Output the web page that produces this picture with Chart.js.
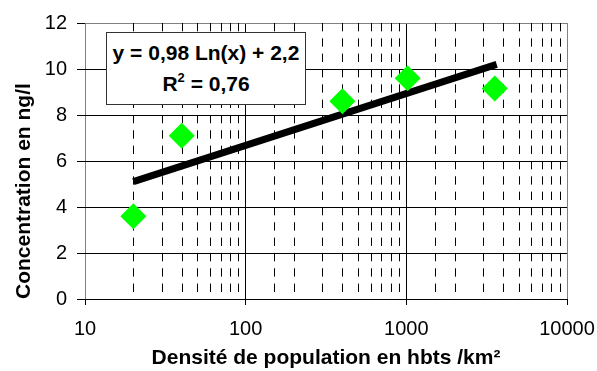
<!DOCTYPE html>
<html><head><meta charset="utf-8">
<script src="https://cdn.jsdelivr.net/npm/chart.js@4/dist/chart.umd.min.js"></script>
<style>
html,body{margin:0;padding:0;background:#fff;}
#wrap{position:relative;width:597px;height:371px;overflow:hidden;}
#c{position:absolute;left:0;top:0;}
#eq{position:absolute;left:106px;top:32px;width:200px;height:73px;border:1px solid #333;background:#fff;
 font:bold 21px "Liberation Sans",Arial,sans-serif;color:#000;text-align:center;box-sizing:border-box;}
#eq div{position:absolute;left:0;right:0;line-height:24px;white-space:nowrap;}
#eq sup{font-size:13px;vertical-align:0;position:relative;top:-9px;}
</style></head><body>
<div id="wrap"><canvas id="c" width="597" height="371" style="width:597px;height:371px"></canvas>
<div id="eq"><div style="top:8px">y = 0,98 Ln(x) + 2,2</div><div style="top:39px">R<sup>2</sup> = 0,76</div></div></div>
<script>
const densities = [20, 40, 400, 1020, 3550];
const concentrations = [3.6, 7.1, 8.6, 9.6, 9.15];
const trendX = [20, 3650];
const trendY = [5.1, 10.2];
const xMajorTicks = [10, 100, 1000, 10000];
const yTicks = [0, 2, 4, 6, 8, 10, 12];

const FONT = '"Liberation Sans", Arial, sans-serif';
const isMajor = v => xMajorTicks.some(m => Math.abs(v - m) < 1e-6 * m);

const minorGrid = {
  id: 'minorGrid',
  beforeDatasetsDraw(chart) {
    const x = chart.scales.x, a = chart.chartArea, ctx = chart.ctx;
    ctx.save();
    ctx.strokeStyle = '#000';
    ctx.lineWidth = 1;
    ctx.setLineDash([8.33, 7]);
    ctx.beginPath();
    x.ticks.forEach(t => {
      if (isMajor(t.value)) return;
      const px = Math.round(x.getPixelForValue(t.value)) + 0.5;
      ctx.moveTo(px, a.top);
      ctx.lineTo(px, a.bottom);
    });
    ctx.stroke();
    ctx.restore();
  }
};

new Chart(document.getElementById('c'), {
  type: 'scatter',
  data: {
    datasets: [
      {
        label: 'Tendance',
        type: 'line',
        data: trendX.map((v, i) => ({x: v, y: trendY[i]})),
        borderColor: '#000',
        borderWidth: 7,
        pointRadius: 0,
        fill: false,
        order: 2
      },
      {
        label: 'Mesures',
        data: densities.map((v, i) => ({x: v, y: concentrations[i]})),
        backgroundColor: '#00FF00',
        borderColor: '#00FF00',
        pointStyle: 'rectRot',
        pointRadius: 13,
        pointHoverRadius: 13,
        borderWidth: 0,
        order: 1
      }
    ]
  },
  options: {
    responsive: false,
    animation: false,
    events: [],
    layout: {padding: {left: 0, top: 23, right: 30, bottom: 0}},
    plugins: {legend: {display: false}, tooltip: {enabled: false}},
    scales: {
      x: {
        type: 'logarithmic',
        min: 10, max: 10000,
        afterFit(s) { s.height = 72; s.paddingLeft = 0; s.paddingRight = 0; },
        border: {display: false},
        grid: {
          color: c => {
            const v = c.tick && c.tick.value;
            if (v === 10 || v === 10000) return '#808080';
            return isMajor(v) ? '#000' : 'rgba(0,0,0,0)';
          },
          lineWidth: 1,
          tickLength: 6,
          tickColor: c => isMajor(c.tick && c.tick.value) ? '#000' : 'rgba(0,0,0,0)'
        },
        ticks: {
          autoSkip: false,
          maxRotation: 0,
          padding: 12,
          color: '#000',
          font: {family: FONT, size: 20},
          callback: v => isMajor(v) ? String(v) : ''
        },
        title: {
          display: true,
          text: 'Densité de population en hbts /km²',
          color: '#000',
          font: {family: FONT, size: 21, weight: 'bold'},
          padding: {top: 0, bottom: 0}
        }
      },
      y: {
        min: 0, max: 12,
        afterFit(s) { s.width = 85; s.paddingTop = 0; s.paddingBottom = 0; },
        afterBuildTicks(s) { s.ticks = yTicks.map(v => ({value: v})); },
        border: {display: false},
        grid: {
          color: c => (c.tick && c.tick.value === 12) ? '#808080' : '#000',
          lineWidth: 1,
          tickLength: 8,
          tickColor: '#000'
        },
        ticks: {
          padding: 10,
          color: '#000',
          font: {family: FONT, size: 20}
        },
        title: {
          display: true,
          align: 'start',
          text: 'Concentration en ng/l',
          color: '#000',
          font: {family: FONT, size: 21, weight: 'bold'},
          padding: {top: 12, bottom: 0}
        }
      }
    }
  },
  plugins: [minorGrid]
});
</script>
</body></html>
